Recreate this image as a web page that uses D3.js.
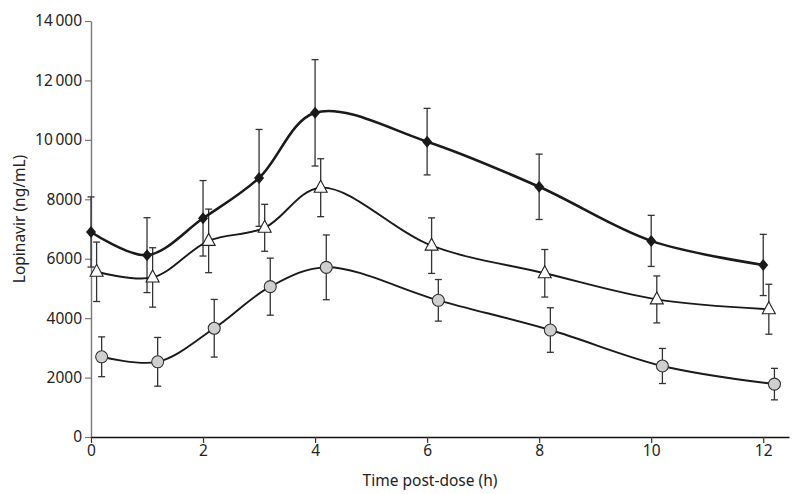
<!DOCTYPE html>
<html>
<head>
<meta charset="utf-8">
<script src="https://cdn.jsdelivr.net/npm/d3@7"></script>
<style>
  body { margin: 0; background: #fff; }
  svg { display: block; }
  text { font-family: "Noto Sans", "Open Sans", sans-serif; fill: #222; }
</style>
</head>
<body>
<svg id="chart" width="800" height="494"></svg>
<script>
// ---- data ----
const hours = [0, 1, 2, 3, 4, 6, 8, 10, 12];
const xTicks = [0, 2, 4, 6, 8, 10, 12];
const yTicks = [0, 2000, 4000, 6000, 8000, 10000, 12000, 14000];
const yTickLabels = ["0", "2000", "4000", "6000", "8000", "10\u2009000", "12\u2009000", "14\u2009000"];

// diamonds (time offset 0)
const diamondTime = [0, 1, 2, 3, 4, 6, 8, 10, 12];
const diamondMean = [6900, 6120, 7360, 8720, 10910, 9940, 8420, 6600, 5790];
const diamondErr  = [1180, 1260, 1270, 1630, 1790, 1120, 1100, 860, 1030];

// triangles (slight x offset)
const triangleTime = [0.1, 1.1, 2.1, 3.1, 4.1, 6.08, 8.1, 10.1, 12.1];
const triangleMean = [5560, 5370, 6600, 7040, 8390, 6440, 5510, 4630, 4300];
const triangleErr  = [1000, 1000, 1070, 790, 975, 935, 800, 790, 840];

// circles (larger x offset)
const circleTime = [0.19, 1.19, 2.2, 3.2, 4.2, 6.2, 8.2, 10.2, 12.2];
const circleMean = [2700, 2530, 3660, 5060, 5710, 4600, 3600, 2390, 1780];
const circleErr  = [670, 820, 970, 960, 1090, 700, 750, 590, 530];

// ---- chart ----
const svg = d3.select("#chart");
const x = d3.scaleLinear().domain([0, 12.46]).range([91, 789]);
const y = d3.scaleLinear().domain([0, 14000]).range([437, 21]);
const FS = 15.5;

// Y axis
const yAxis = svg.append("g").attr("transform", `translate(${x(0)},0)`)
  .call(d3.axisLeft(y).tickValues(yTicks).tickSize(6).tickSizeOuter(0)
    .tickFormat((d, i) => yTickLabels[i]));
yAxis.select(".domain").attr("stroke", "#777").attr("stroke-width", 1.4);
yAxis.selectAll(".tick line").attr("stroke", "#777").attr("stroke-width", 1.2);
yAxis.selectAll(".tick text").attr("font-size", FS).attr("fill", "#222")
  .attr("font-family", "'Noto Sans', sans-serif").attr("x", -9);

// X axis
const xAxis = svg.append("g").attr("transform", `translate(0,${y(0)})`)
  .call(d3.axisBottom(x).tickValues(xTicks).tickSize(6).tickSizeOuter(0).tickFormat(d3.format("d")));
xAxis.select(".domain").attr("stroke", "#111").attr("stroke-width", 1.4);
xAxis.selectAll(".tick line").attr("stroke", "#333").attr("stroke-width", 1.2);
xAxis.selectAll(".tick text").attr("font-size", FS).attr("fill", "#222")
  .attr("font-family", "'Noto Sans', sans-serif").attr("y", 8);

// axis titles
svg.append("text").attr("x", 430).attr("y", 486).attr("text-anchor", "middle")
  .attr("font-size", FS).text("Time post-dose (h)");
svg.append("text").attr("transform", "translate(25,219) rotate(-90)")
  .attr("text-anchor", "middle").attr("font-size", FS).text("Lopinavir (ng/mL)");

const series = [
  { t: diamondTime, m: diamondMean, e: diamondErr, lw: 2.6, kind: "diamond" },
  { t: triangleTime, m: triangleMean, e: triangleErr, lw: 1.9, kind: "triangle" },
  { t: circleTime, m: circleMean, e: circleErr, lw: 1.9, kind: "circle" }
];

const line = d3.line().x(d => x(d[0])).y(d => y(d[1])).curve(d3.curveCatmullRom.alpha(0.5));

// error bars
series.forEach(s => {
  const g = svg.append("g").attr("stroke", "#333").attr("stroke-width", 1.3);
  s.t.forEach((t, i) => {
    const cx = x(t), lo = y(s.m[i] - s.e[i]), hi = y(s.m[i] + s.e[i]);
    g.append("line").attr("x1", cx).attr("x2", cx).attr("y1", lo).attr("y2", hi);
    g.append("line").attr("x1", cx - 3.5).attr("x2", cx + 3.5).attr("y1", lo).attr("y2", lo);
    g.append("line").attr("x1", cx - 3.5).attr("x2", cx + 3.5).attr("y1", hi).attr("y2", hi);
  });
});

// lines
series.forEach(s => {
  svg.append("path").datum(s.t.map((t, i) => [t, s.m[i]]))
    .attr("d", line).attr("fill", "none").attr("stroke", "#1a1a1a")
    .attr("stroke-width", s.lw).attr("stroke-linejoin", "round");
});

// markers
series.forEach(s => {
  s.t.forEach((t, i) => {
    const cx = x(t), cy = y(s.m[i]);
    if (s.kind === "diamond") {
      svg.append("path").attr("transform", `translate(${cx},${cy})`)
        .attr("d", "M0,-6L5,0L0,6L-5,0Z").attr("fill", "#1a1a1a");
    } else if (s.kind === "triangle") {
      svg.append("path").attr("transform", `translate(${cx},${cy})`)
        .attr("d", "M0,-7.5L6.5,4.5L-6.5,4.5Z").attr("fill", "#fff")
        .attr("stroke", "#222").attr("stroke-width", 1.1);
    } else {
      svg.append("circle").attr("cx", cx).attr("cy", cy).attr("r", 6)
        .attr("fill", "#cfcfcf").attr("stroke", "#333").attr("stroke-width", 1.1);
    }
  });
});
</script>
</body>
</html>
